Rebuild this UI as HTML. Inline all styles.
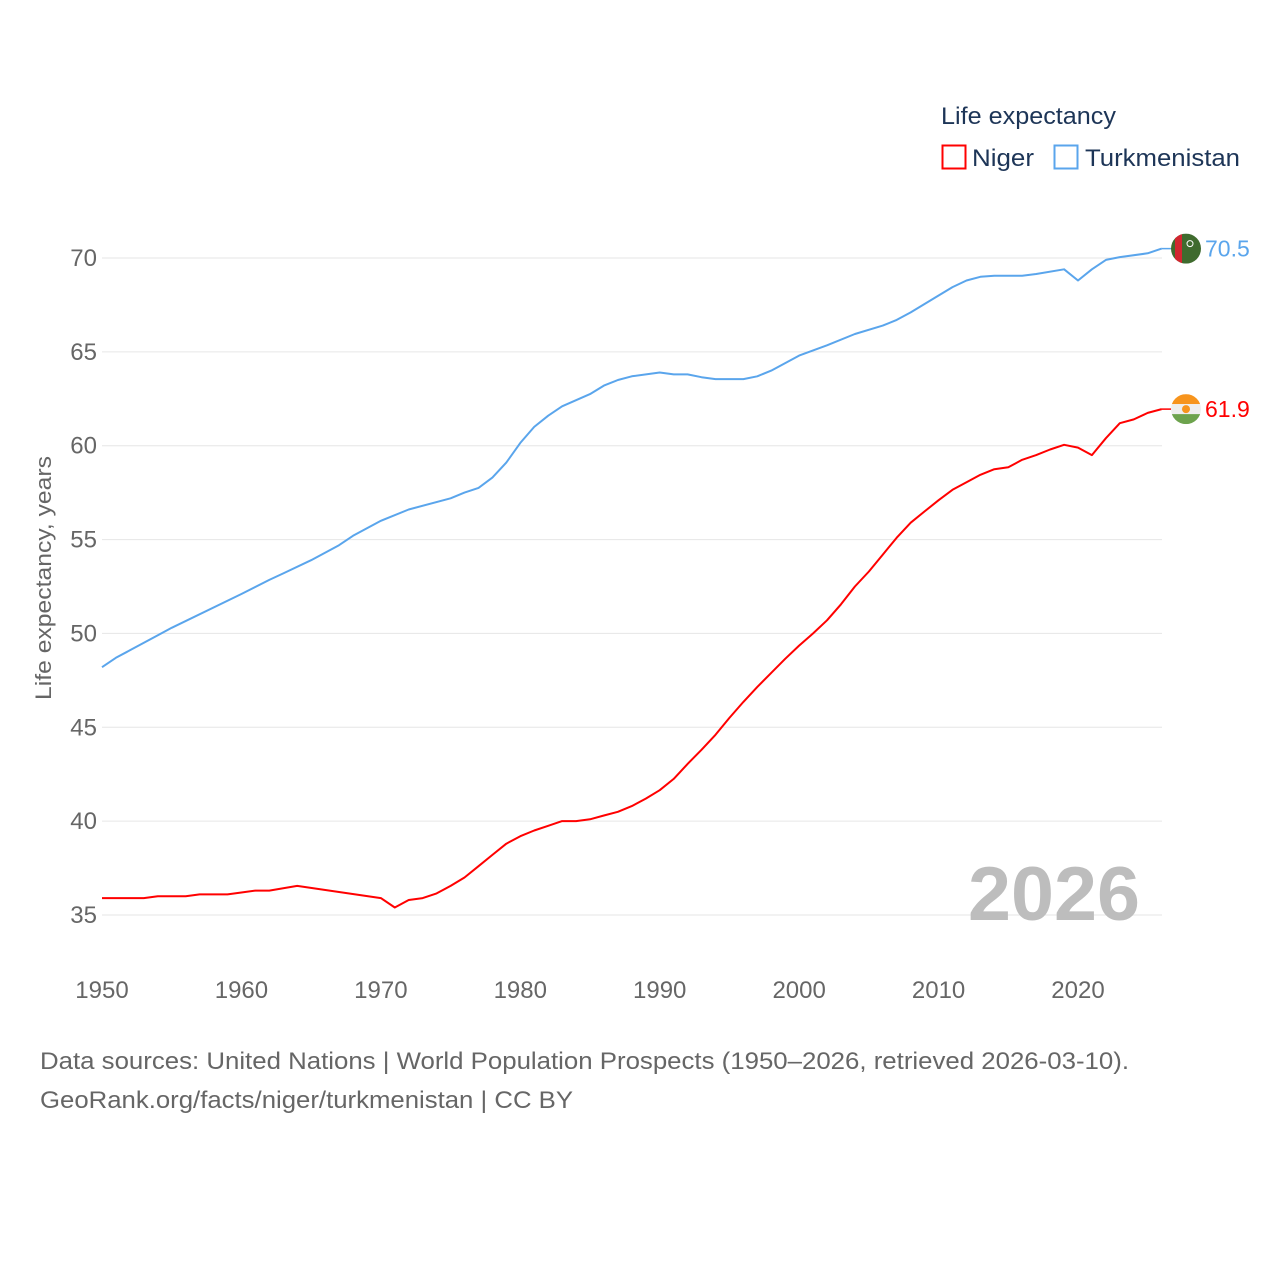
<!DOCTYPE html>
<html><head><meta charset="utf-8"><style>
html,body{margin:0;padding:0;background:#fff;}
svg{display:block;font-family:"Liberation Sans",sans-serif;}
</style></head><body>
<svg id="chart" width="1280" height="1280" viewBox="0 0 1280 1280" xmlns="http://www.w3.org/2000/svg">
<g>
<text x="941" y="124" font-size="24" fill="#1d3557" textLength="175" lengthAdjust="spacingAndGlyphs">Life expectancy</text>
<g>
<rect x="942.5" y="145.5" width="23" height="23" fill="none" stroke="#ff0000" stroke-width="2"/>
<text x="972" y="166" font-size="24" fill="#1d3557" textLength="62" lengthAdjust="spacingAndGlyphs">Niger</text></g>
<g>
<rect x="1054.5" y="145.5" width="23" height="23" fill="none" stroke="#5aa5ec" stroke-width="2"/>
<text x="1085" y="166" font-size="24" fill="#1d3557" textLength="155" lengthAdjust="spacingAndGlyphs">Turkmenistan</text></g>
</g>
<g id="grid"></g>
<g id="yticks"></g>
<g id="xticks"></g>
<text transform="translate(51,578) rotate(-90)" text-anchor="middle" font-size="22" fill="#666" textLength="244" lengthAdjust="spacingAndGlyphs">Life expectancy, years</text>
<text x="1140" y="920" text-anchor="end" font-size="76" font-weight="bold" fill="#bdbdbd" textLength="172" lengthAdjust="spacingAndGlyphs">2026</text>
<g id="series"></g>
<g id="ends"></g>
<text x="40" y="1069" font-size="24" fill="#666" textLength="1089" lengthAdjust="spacingAndGlyphs">Data sources: United Nations | World Population Prospects (1950–2026, retrieved 2026-03-10).</text>
<text x="40" y="1108" font-size="24" fill="#666" textLength="533" lengthAdjust="spacingAndGlyphs">GeoRank.org/facts/niger/turkmenistan | CC BY</text>
</svg>
<script>
const nigerYears = [1950,1953,1954,1956,1957,1959,1960,1961,1962,1964,1970,1971,1972,1973,1974,1975,1976,1977,1978,1979,1980,1981,1982,1983,1984,1985,1986,1987,1988,1989,1990,1991,1992,1993,1994,1995,1996,1997,1998,1999,2000,2001,2002,2003,2004,2005,2006,2007,2008,2009,2010,2011,2012,2013,2014,2015,2016,2017,2018,2019,2020,2021,2022,2023,2024,2025,2026];
const nigerValues = [35.9,35.9,36.0,36.0,36.1,36.1,36.2,36.3,36.3,36.55,35.9,35.4,35.8,35.9,36.15,36.55,37.0,37.6,38.2,38.8,39.2,39.5,39.75,40.0,40.0,40.1,40.3,40.5,40.8,41.2,41.65,42.25,43.05,43.8,44.6,45.5,46.35,47.15,47.9,48.65,49.35,50.0,50.7,51.55,52.5,53.3,54.2,55.1,55.9,56.5,57.1,57.65,58.05,58.45,58.75,58.85,59.25,59.5,59.8,60.05,59.9,59.5,60.4,61.2,61.4,61.75,61.95];
const turkYears = [1950,1951,1952,1955,1960,1962,1963,1965,1967,1968,1970,1972,1975,1976,1977,1978,1979,1980,1981,1982,1983,1985,1986,1987,1988,1990,1991,1992,1993,1994,1996,1997,1998,1999,2000,2002,2004,2006,2007,2008,2010,2011,2012,2013,2014,2016,2017,2019,2020,2021,2022,2023,2025,2026];
const turkValues = [48.2,48.7,49.1,50.3,52.1,52.85,53.2,53.9,54.7,55.2,56.0,56.6,57.2,57.5,57.75,58.3,59.1,60.15,61.0,61.6,62.1,62.75,63.2,63.5,63.7,63.9,63.8,63.8,63.65,63.55,63.55,63.7,64.0,64.4,64.8,65.35,65.95,66.4,66.7,67.1,68.0,68.45,68.8,69.0,69.05,69.05,69.15,69.4,68.8,69.4,69.9,70.05,70.25,70.5];
const yTickValues = [35,40,45,50,55,60,65,70];
const xTickValues = [1950,1960,1970,1980,1990,2000,2010,2020];
const endLabels = ["61.9","70.5"];

const NS = "http://www.w3.org/2000/svg";
const X = yr => 102 + (yr - 1950) * (976 / 70);
const Y = v => 915 - (v - 35) * (657 / 35);
function mk(tag, attrs, parent){ const e=document.createElementNS(NS,tag); for(const k in attrs) e.setAttribute(k,attrs[k]); parent.appendChild(e); return e; }
const grid=document.getElementById('grid'), yt=document.getElementById('yticks'), xt=document.getElementById('xticks');
yTickValues.forEach(v=>{
  const l=mk('line',{x1:102,x2:1162,y1:Y(v),y2:Y(v),stroke:'#e6e6e6','stroke-width':1},grid);
  
  
  const t=mk('text',{x:97,y:Y(v)+8,'text-anchor':'end','font-size':24,fill:'#666'},yt);
  
  
  t.textContent=v;
});
xTickValues.forEach(v=>{
  const t=mk('text',{x:X(v),y:998,'text-anchor':'middle','font-size':24,fill:'#666'},xt);
  
  
  t.textContent=v;
});
const ser=document.getElementById('series');
function line(xs,vs,color,name){
  const p=mk('path',{d:xs.map((x,i)=>(i?'L':'M')+X(x).toFixed(1)+','+Y(vs[i]).toFixed(1)).join(''),fill:'none',stroke:color,'stroke-width':2,'stroke-linejoin':'round'},ser);
  
  
}
line(turkYears,turkValues,'#5aa5ec','line-turkmenistan');
line(nigerYears,nigerValues,'#ff0000','line-niger');
const ends=document.getElementById('ends');
const cx=1186;
const defs=mk('defs',{},ends);
const ny=Y(nigerValues[nigerValues.length-1]);
const ty=Y(turkValues[turkValues.length-1]);
mk('circle',{cx:cx,cy:ny,r:15},mk('clipPath',{id:'cn'},defs));
mk('circle',{cx:cx,cy:ty,r:15},mk('clipPath',{id:'ct'},defs));
// Niger flag
const ng=mk('g',{'clip-path':'url(#cn)'},ends);


mk('rect',{x:cx-15,y:ny-15,width:30,height:10,fill:'#f7941d'},ng);
mk('rect',{x:cx-15,y:ny-5,width:30,height:10,fill:'#eeeeee'},ng);
mk('rect',{x:cx-15,y:ny+5,width:30,height:10,fill:'#6da34d'},ng);
mk('circle',{cx:cx,cy:ny,r:4,fill:'#f7941d'},ng);
mk('line',{x1:X(2026),x2:cx-15,y1:ny,y2:ny,stroke:'#ff0000','stroke-width':1.5},ends);
const nl=mk('text',{x:1205,y:ny+8,'font-size':23,fill:'#ff0000'},ends);


nl.textContent=endLabels[0];
// Turkmenistan flag
const tg=mk('g',{'clip-path':'url(#ct)'},ends);


mk('rect',{x:cx-15,y:ty-15,width:30,height:30,fill:'#3f6b2e'},tg);
mk('rect',{x:cx-11,y:ty-15,width:7,height:30,fill:'#d22630'},tg);
mk('circle',{cx:cx+4,cy:ty-5,r:3,fill:'none',stroke:'#fff','stroke-width':1},tg);
mk('line',{x1:X(2026),x2:cx-15,y1:ty,y2:ty,stroke:'#5aa5ec','stroke-width':1.5},ends);
const tl=mk('text',{x:1205,y:ty+8,'font-size':23,fill:'#5aa5ec'},ends);


tl.textContent=endLabels[1];
</script>
</body></html>
